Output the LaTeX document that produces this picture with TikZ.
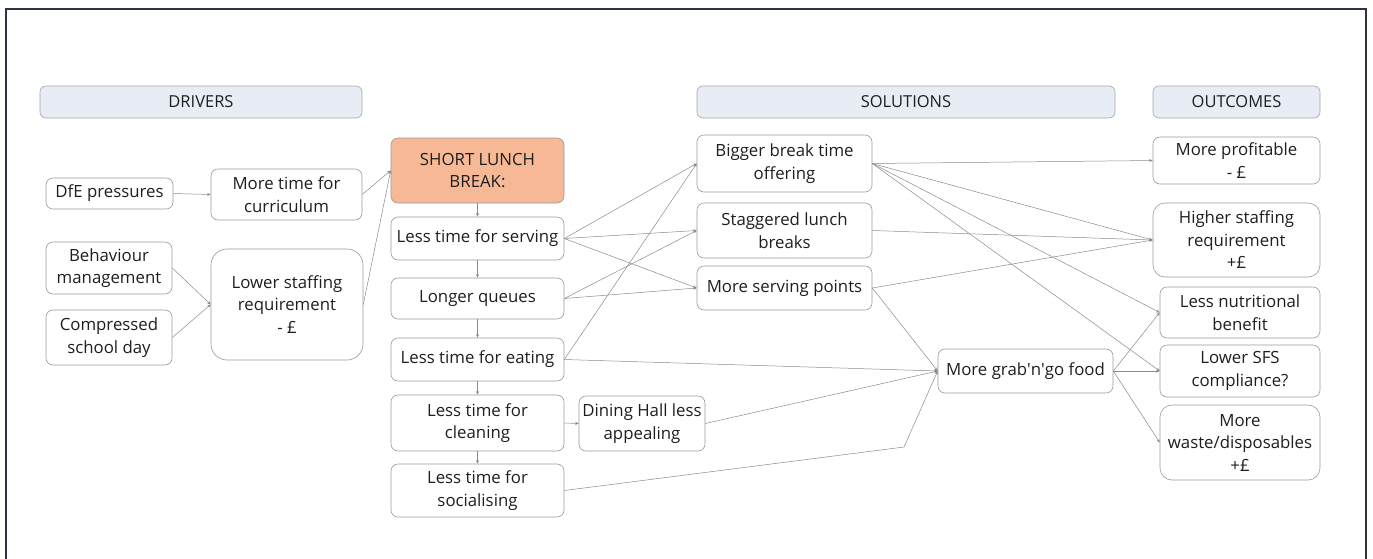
\documentclass[tikz,border=0pt]{standalone}
\usepackage{fontspec}
\setmainfont{Open Sans}
\usepackage{tikz}
\usetikzlibrary{positioning, arrows.meta}

\definecolor{framecol}{HTML}{2B3447}
\definecolor{headfill}{HTML}{E8ECF5}
\definecolor{headline}{HTML}{A6A6A6}
\definecolor{boxline}{HTML}{9A9A9A}
\definecolor{salmon}{HTML}{F7B995}
\definecolor{linkcol}{HTML}{8A8A8A}
\definecolor{txt}{HTML}{1E1E1E}

\begin{document}
\begin{tikzpicture}[
  x=1pt, y=-1pt,
  every node/.style={font=\fontsize{16.8pt}{22.5pt}\selectfont, text=txt},
  box/.style={draw=boxline, line width=0.6pt, rounded corners=7pt, align=center, inner sep=0pt},
  head/.style={box, draw=headline, fill=headfill, rounded corners=6pt, minimum height=32pt,
    font=\fontsize{16.5pt}{18pt}\selectfont},
  arr/.style={-{Stealth[length=3.5pt, width=3pt]}, draw=linkcol, line width=0.5pt}
]
  \useasboundingbox (0,0) rectangle (1373,558);
  \draw[framecol, line width=2.5pt] (6,560) -- (6,9) -- (1366,9) -- (1366,560);

  % column headers
  \node[head, minimum width=322pt] (drivers)   at (201,102)    {DRIVERS};
  \node[head, minimum width=418pt] (solutions) at (906,102)    {SOLUTIONS};
  \node[head, minimum width=167pt] (outcomes)  at (1236.5,102) {OUTCOMES};

  % drivers
  \node[box, minimum width=127pt, minimum height=31pt]  (dfe)      at (109.5,193.5) {DfE pressures};
  \node[box, minimum width=151pt, minimum height=51pt]  (curr)     at (286.5,194.5) {More time for\\curriculum};
  \node[box, minimum width=126pt, minimum height=52pt]  (behav)    at (109,268)     {Behaviour\\management};
  \node[box, minimum width=126pt, minimum height=55pt]  (compr)    at (109,337.5)   {Compressed\\school day};
  \node[box, minimum width=152pt, minimum height=111pt, rounded corners=16pt] (lowstaff) at (287,304.5) {Lower staffing\\requirement\\- £};

  % lunch break chain
  \node[box, fill=salmon, minimum width=173pt, minimum height=65pt] (short) at (477.5,170.5) {SHORT LUNCH\\BREAK:};
  \node[box, minimum width=173pt, minimum height=43pt] (serving)  at (477.5,238.5) {Less time for serving};
  \node[box, minimum width=173pt, minimum height=41pt] (queues)   at (477.5,298.5) {Longer queues};
  \node[box, minimum width=173pt, minimum height=43pt] (eating)   at (477.5,359.5) {Less time for eating};
  \node[box, minimum width=173pt, minimum height=56pt] (cleaning) at (477.5,423)   {Less time for\\cleaning};
  \node[box, minimum width=173pt, minimum height=53pt] (social)   at (477.5,490.5) {Less time for\\socialising};
  \node[box, minimum width=126pt, minimum height=55pt] (dining)   at (642,423.5)   {Dining Hall less\\appealing};

  % solutions
  \node[box, minimum width=175pt, minimum height=57pt] (bigger)  at (784.5,163.5) {Bigger break time\\offering};
  \node[box, minimum width=175pt, minimum height=55pt] (stagger) at (784.5,230.5) {Staggered lunch\\breaks};
  \node[box, minimum width=175pt, minimum height=44pt] (points)  at (784.5,288)   {More serving points};
  \node[box, minimum width=175pt, minimum height=44pt] (grab)    at (1025.5,371)  {More grab\textquotesingle n\textquotesingle go food};
  \coordinate (bend) at (904,447);

  % outcomes
  \node[box, minimum width=167pt, minimum height=47pt] (profit)    at (1236.5,160.5) {More profitable\\- £};
  \node[box, minimum width=167pt, minimum height=74pt, rounded corners=12pt] (highstaff) at (1236.5,240) {Higher staffing\\requirement\\+£};
  \node[box, minimum width=160pt, minimum height=51pt] (nutri)     at (1240,312.5)  {Less nutritional\\benefit};
  \node[box, minimum width=160pt, minimum height=52pt] (sfs)       at (1240,371)    {Lower SFS\\compliance?};
  \node[box, minimum width=160pt, minimum height=75pt, rounded corners=12pt] (waste) at (1240,442.5) {More\\waste/disposables\\+£};

  % links
  \draw[arr] (dfe.east) -- (curr.west);
  \draw[arr] (behav.east) -- (lowstaff.west);
  \draw[arr] (compr.east) -- (lowstaff.west);
  \draw[arr] (curr.east) -- (short.west);
  \draw[arr] (lowstaff.east) -- (short.west);

  \draw[arr] (short.south) -- (serving.north);
  \draw[arr] (serving.south) -- (queues.north);
  \draw[arr] (queues.south) -- (eating.north);
  \draw[arr] (eating.south) -- (cleaning.north);
  \draw[arr] (cleaning.south) -- (social.north);
  \draw[arr] (cleaning.east) -- (dining.west);

  \draw[arr] (serving.east) -- (bigger.west);
  \draw[arr] (serving.east) -- (stagger.west);
  \draw[arr] (serving.east) -- (points.west);
  \draw[arr] (queues.east) -- (stagger.west);
  \draw[arr] (queues.east) -- (points.west);
  \draw[arr] (eating.east) -- (bigger.west);
  \draw[arr] (eating.east) -- (grab.west);
  \draw[arr] (dining.east) -- (grab.west);
  \draw[arr] (social.east) -- (bend) -- (grab.west);
  \draw[arr] (points.east) -- (grab.west);

  \draw[arr] (bigger.east) -- (profit.west);
  \draw[arr] (bigger.east) -- (highstaff.west);
  \draw[arr] (bigger.east) -- (nutri.west);
  \draw[arr] (bigger.east) -- (sfs.west);
  \draw[arr] (stagger.east) -- (highstaff.west);
  \draw[arr] (points.east) -- (highstaff.west);
  \draw[arr] (grab.east) -- (nutri.west);
  \draw[arr] (grab.east) -- (sfs.west);
  \draw[arr] (grab.east) -- (waste.west);
\end{tikzpicture}
\end{document}
